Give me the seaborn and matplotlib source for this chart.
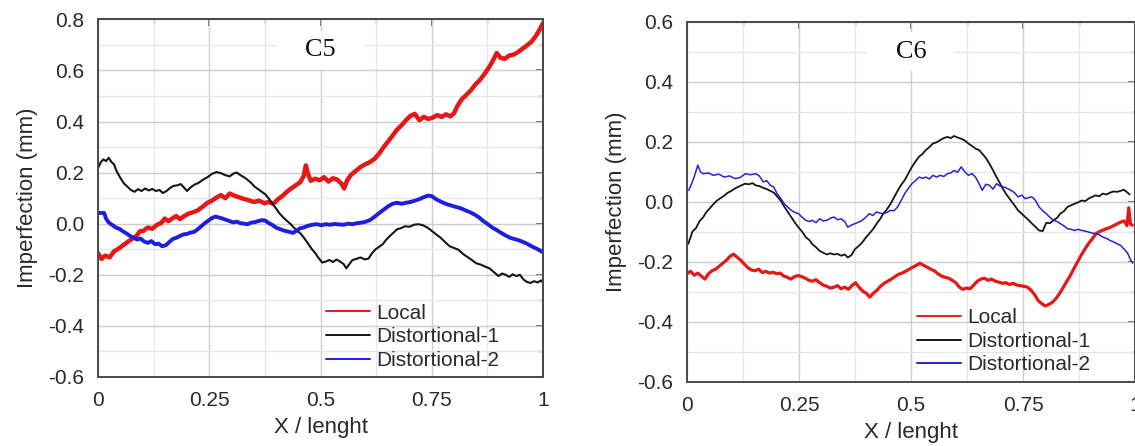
import matplotlib
matplotlib.use("Agg")
import matplotlib.pyplot as plt
import seaborn as sns
from matplotlib.ticker import MultipleLocator, FixedLocator, NullFormatter, FormatStrFormatter

# ---------------- C5 ----------------
c5_local_x = [0.000, 0.008, 0.016, 0.026, 0.036, 0.046, 0.056, 0.066, 0.076, 0.086, 0.094, 0.102,
              0.112, 0.122, 0.132, 0.142, 0.150, 0.158, 0.168, 0.176, 0.184, 0.194, 0.204, 0.214,
              0.224, 0.234, 0.246, 0.256, 0.266, 0.276, 0.286, 0.296, 0.306, 0.316, 0.326, 0.338,
              0.350, 0.362, 0.374, 0.384, 0.394, 0.404, 0.414, 0.424, 0.434, 0.444, 0.454, 0.462,
              0.467, 0.472, 0.478, 0.488, 0.498, 0.508, 0.518, 0.528, 0.538, 0.548, 0.553, 0.560,
              0.568, 0.578, 0.590, 0.600, 0.612, 0.622, 0.632, 0.642, 0.652, 0.662, 0.672, 0.682,
              0.692, 0.702, 0.712, 0.722, 0.732, 0.742, 0.752, 0.762, 0.772, 0.782, 0.792, 0.800,
              0.808, 0.818, 0.828, 0.838, 0.848, 0.858, 0.868, 0.878, 0.888, 0.896, 0.904, 0.914,
              0.924, 0.934, 0.944, 0.954, 0.964, 0.974, 0.984, 0.992, 1.000]
c5_local_y = [-0.115, -0.138, -0.125, -0.132, -0.108, -0.098, -0.085, -0.072, -0.060, -0.049, -0.030, -0.028,
              -0.015, -0.020, -0.005, 0.003, 0.020, 0.010, 0.022, 0.030, 0.018, 0.030, 0.040, 0.045,
              0.052, 0.065, 0.082, 0.090, 0.102, 0.112, 0.100, 0.118, 0.110, 0.104, 0.098, 0.092,
              0.085, 0.090, 0.080, 0.085, 0.078, 0.095, 0.108, 0.124, 0.138, 0.150, 0.162, 0.185,
              0.228, 0.195, 0.168, 0.176, 0.170, 0.182, 0.165, 0.178, 0.172, 0.155, 0.138, 0.170,
              0.190, 0.205, 0.222, 0.232, 0.242, 0.255, 0.275, 0.300, 0.322, 0.345, 0.368, 0.385,
              0.405, 0.422, 0.430, 0.405, 0.418, 0.410, 0.415, 0.425, 0.418, 0.428, 0.420, 0.432,
              0.462, 0.488, 0.505, 0.522, 0.545, 0.562, 0.585, 0.610, 0.640, 0.668, 0.650, 0.645,
              0.658, 0.662, 0.672, 0.685, 0.698, 0.712, 0.735, 0.758, 0.785]

c5_d1_x = [0.000, 0.006, 0.012, 0.018, 0.024, 0.030, 0.036, 0.042, 0.050, 0.058, 0.066, 0.074,
           0.082, 0.090, 0.098, 0.106, 0.114, 0.122, 0.130, 0.138, 0.146, 0.154, 0.162, 0.170,
           0.178, 0.186, 0.194, 0.200, 0.208, 0.216, 0.226, 0.236, 0.246, 0.256, 0.266, 0.276,
           0.286, 0.296, 0.304, 0.312, 0.320, 0.328, 0.336, 0.344, 0.352, 0.360, 0.368, 0.376,
           0.384, 0.392, 0.400, 0.408, 0.416, 0.424, 0.432, 0.440, 0.448, 0.456, 0.464, 0.472,
           0.480, 0.488, 0.496, 0.504, 0.512, 0.520, 0.528, 0.536, 0.544, 0.552, 0.558, 0.564,
           0.572, 0.580, 0.590, 0.600, 0.608, 0.616, 0.624, 0.632, 0.640, 0.648, 0.656, 0.664,
           0.672, 0.680, 0.690, 0.700, 0.710, 0.720, 0.730, 0.740, 0.750, 0.760, 0.770, 0.780,
           0.790, 0.800, 0.810, 0.820, 0.830, 0.840, 0.850, 0.860, 0.870, 0.880, 0.890, 0.900,
           0.908, 0.916, 0.924, 0.932, 0.940, 0.948, 0.956, 0.964, 0.972, 0.980, 0.988, 0.996, 1.000]
c5_d1_y = [0.218, 0.240, 0.252, 0.245, 0.258, 0.242, 0.232, 0.205, 0.180, 0.158, 0.145, 0.132,
           0.125, 0.135, 0.128, 0.138, 0.130, 0.136, 0.128, 0.132, 0.120, 0.128, 0.140, 0.148,
           0.150, 0.155, 0.140, 0.128, 0.142, 0.152, 0.160, 0.172, 0.182, 0.195, 0.202, 0.198,
           0.190, 0.185, 0.196, 0.200, 0.190, 0.182, 0.172, 0.160, 0.145, 0.135, 0.125, 0.115,
           0.098, 0.078, 0.060, 0.040, 0.025, 0.012, 0.000, -0.015, -0.028, -0.040, -0.058, -0.078,
           -0.098, -0.115, -0.135, -0.152, -0.148, -0.142, -0.150, -0.140, -0.148, -0.158, -0.175, -0.160,
           -0.142, -0.138, -0.132, -0.140, -0.136, -0.115, -0.100, -0.090, -0.080, -0.062, -0.048, -0.035,
           -0.022, -0.018, -0.010, -0.012, -0.004, -0.002, -0.006, -0.015, -0.028, -0.042, -0.055, -0.072,
           -0.088, -0.095, -0.102, -0.118, -0.130, -0.142, -0.155, -0.160, -0.168, -0.175, -0.190, -0.205,
           -0.195, -0.200, -0.208, -0.198, -0.205, -0.200, -0.218, -0.228, -0.232, -0.225, -0.230, -0.222, -0.230]

c5_d2_x = [0.000, 0.014, 0.018, 0.024, 0.032, 0.040, 0.048, 0.056, 0.064, 0.072, 0.080, 0.088,
           0.096, 0.104, 0.112, 0.120, 0.128, 0.136, 0.144, 0.152, 0.160, 0.168, 0.176, 0.184,
           0.192, 0.200, 0.208, 0.216, 0.224, 0.232, 0.240, 0.248, 0.256, 0.264, 0.272, 0.280,
           0.288, 0.296, 0.304, 0.312, 0.320, 0.328, 0.336, 0.344, 0.352, 0.360, 0.368, 0.376,
           0.384, 0.392, 0.400, 0.410, 0.420, 0.430, 0.438, 0.446, 0.454, 0.462, 0.472, 0.482,
           0.492, 0.502, 0.512, 0.522, 0.532, 0.542, 0.552, 0.562, 0.572, 0.582, 0.592, 0.602,
           0.612, 0.622, 0.632, 0.642, 0.652, 0.662, 0.672, 0.682, 0.692, 0.702, 0.712, 0.722,
           0.732, 0.742, 0.750, 0.758, 0.766, 0.776, 0.786, 0.796, 0.806, 0.816, 0.826, 0.836,
           0.846, 0.856, 0.866, 0.876, 0.886, 0.896, 0.906, 0.916, 0.926, 0.936, 0.946, 0.956,
           0.966, 0.976, 0.986, 1.000]
c5_d2_y = [0.042, 0.042, 0.020, 0.005, -0.005, -0.015, -0.020, -0.030, -0.038, -0.048, -0.055, -0.062,
           -0.058, -0.070, -0.075, -0.068, -0.080, -0.078, -0.088, -0.085, -0.072, -0.060, -0.055, -0.048,
           -0.042, -0.040, -0.035, -0.032, -0.022, -0.010, 0.002, 0.012, 0.022, 0.028, 0.024, 0.020,
           0.015, 0.010, 0.005, 0.008, 0.002, 0.000, -0.002, 0.004, 0.006, 0.010, 0.014, 0.012,
           0.002, -0.005, -0.015, -0.022, -0.028, -0.032, -0.036, -0.028, -0.018, -0.015, -0.008, -0.004,
           -0.002, -0.006, -0.002, -0.004, -0.001, -0.003, -0.004, 0.000, -0.002, 0.002, 0.004, 0.008,
           0.015, 0.028, 0.042, 0.055, 0.068, 0.078, 0.082, 0.078, 0.082, 0.085, 0.090, 0.096,
           0.104, 0.110, 0.108, 0.098, 0.090, 0.082, 0.075, 0.070, 0.065, 0.060, 0.052, 0.045,
           0.036, 0.025, 0.010, -0.002, -0.015, -0.025, -0.036, -0.046, -0.055, -0.060, -0.065, -0.072,
           -0.080, -0.090, -0.098, -0.112]

# ---------------- C6 ----------------
c6_local_x = [0.000, 0.008, 0.016, 0.024, 0.032, 0.040, 0.048, 0.056, 0.064, 0.072, 0.080, 0.088,
              0.096, 0.104, 0.112, 0.120, 0.128, 0.136, 0.144, 0.152, 0.160, 0.168, 0.176, 0.184,
              0.192, 0.200, 0.208, 0.216, 0.224, 0.232, 0.240, 0.248, 0.256, 0.264, 0.272, 0.280,
              0.288, 0.296, 0.304, 0.312, 0.320, 0.328, 0.336, 0.344, 0.352, 0.360, 0.368, 0.376,
              0.384, 0.392, 0.400, 0.408, 0.416, 0.424, 0.432, 0.440, 0.448, 0.456, 0.464, 0.472,
              0.480, 0.488, 0.496, 0.504, 0.512, 0.520, 0.528, 0.536, 0.544, 0.552, 0.560, 0.568,
              0.576, 0.584, 0.592, 0.600, 0.608, 0.616, 0.624, 0.632, 0.640, 0.648, 0.656, 0.664,
              0.672, 0.680, 0.688, 0.696, 0.704, 0.712, 0.720, 0.728, 0.736, 0.744, 0.752, 0.760,
              0.768, 0.776, 0.784, 0.792, 0.800, 0.808, 0.816, 0.824, 0.832, 0.840, 0.848, 0.856,
              0.864, 0.872, 0.880, 0.888, 0.896, 0.904, 0.912, 0.920, 0.928, 0.936, 0.944, 0.952,
              0.960, 0.968, 0.976, 0.982, 0.986, 0.990, 0.994]
c6_local_y = [-0.240, -0.232, -0.245, -0.238, -0.248, -0.258, -0.240, -0.230, -0.225, -0.215, -0.205, -0.195,
              -0.182, -0.175, -0.185, -0.195, -0.208, -0.220, -0.228, -0.230, -0.225, -0.236, -0.232, -0.238,
              -0.235, -0.240, -0.238, -0.248, -0.252, -0.258, -0.250, -0.246, -0.250, -0.255, -0.262, -0.265,
              -0.260, -0.270, -0.278, -0.282, -0.288, -0.285, -0.280, -0.290, -0.285, -0.292, -0.280, -0.270,
              -0.285, -0.298, -0.305, -0.318, -0.305, -0.295, -0.282, -0.272, -0.265, -0.258, -0.250, -0.242,
              -0.238, -0.232, -0.225, -0.218, -0.212, -0.205, -0.212, -0.218, -0.225, -0.230, -0.240, -0.248,
              -0.252, -0.255, -0.262, -0.270, -0.285, -0.292, -0.288, -0.290, -0.278, -0.265, -0.258, -0.255,
              -0.262, -0.258, -0.265, -0.268, -0.272, -0.270, -0.276, -0.272, -0.278, -0.280, -0.282, -0.285,
              -0.295, -0.310, -0.330, -0.340, -0.348, -0.342, -0.335, -0.322, -0.305, -0.285, -0.265, -0.245,
              -0.222, -0.200, -0.178, -0.158, -0.140, -0.125, -0.108, -0.100, -0.095, -0.090, -0.086, -0.080,
              -0.074, -0.068, -0.064, -0.080, -0.020, -0.075, -0.078]

c6_d1_x = [0.003, 0.008, 0.012, 0.020, 0.028, 0.036, 0.043, 0.051, 0.059, 0.067, 0.075, 0.083,
           0.091, 0.099, 0.107, 0.115, 0.122, 0.130, 0.138, 0.146, 0.154, 0.162, 0.170, 0.178,
           0.186, 0.194, 0.201, 0.209, 0.217, 0.225, 0.233, 0.241, 0.249, 0.257, 0.265, 0.273,
           0.280, 0.288, 0.296, 0.304, 0.312, 0.320, 0.328, 0.336, 0.344, 0.352, 0.359, 0.367,
           0.375, 0.383, 0.391, 0.399, 0.407, 0.415, 0.423, 0.431, 0.438, 0.446, 0.454, 0.462,
           0.470, 0.478, 0.486, 0.494, 0.502, 0.510, 0.518, 0.526, 0.533, 0.541, 0.549, 0.557,
           0.565, 0.573, 0.581, 0.589, 0.596, 0.604, 0.612, 0.620, 0.628, 0.636, 0.644, 0.652,
           0.659, 0.667, 0.675, 0.683, 0.691, 0.699, 0.707, 0.715, 0.723, 0.731, 0.739, 0.747,
           0.755, 0.763, 0.770, 0.778, 0.786, 0.794, 0.802, 0.810, 0.818, 0.826, 0.833, 0.841,
           0.849, 0.857, 0.865, 0.873, 0.881, 0.889, 0.896, 0.904, 0.912, 0.920, 0.928, 0.936,
           0.944, 0.952, 0.960, 0.968, 0.975, 0.982, 0.988]
c6_d1_y = [-0.140, -0.118, -0.100, -0.088, -0.065, -0.052, -0.035, -0.022, -0.008, 0.004, 0.012, 0.020,
           0.030, 0.036, 0.044, 0.050, 0.055, 0.060, 0.058, 0.062, 0.054, 0.052, 0.046, 0.042,
           0.036, 0.030, 0.018, 0.004, -0.016, -0.034, -0.052, -0.070, -0.086, -0.100, -0.118, -0.128,
           -0.142, -0.152, -0.164, -0.170, -0.176, -0.172, -0.176, -0.174, -0.180, -0.176, -0.186, -0.178,
           -0.158, -0.148, -0.136, -0.120, -0.106, -0.092, -0.074, -0.058, -0.040, -0.026, -0.008, 0.014,
           0.036, 0.056, 0.072, 0.094, 0.116, 0.134, 0.150, 0.160, 0.172, 0.182, 0.194, 0.198,
           0.205, 0.212, 0.216, 0.212, 0.219, 0.214, 0.210, 0.204, 0.194, 0.186, 0.177, 0.172,
           0.160, 0.146, 0.127, 0.105, 0.082, 0.060, 0.038, 0.020, 0.004, -0.012, -0.029, -0.040,
           -0.051, -0.062, -0.073, -0.084, -0.096, -0.098, -0.070, -0.072, -0.062, -0.054, -0.040, -0.032,
           -0.018, -0.012, -0.007, -0.002, 0.004, 0.002, 0.010, 0.016, 0.021, 0.018, 0.027, 0.024,
           0.030, 0.034, 0.033, 0.036, 0.040, 0.032, 0.024]

c6_d2_x = [0.004, 0.012, 0.018, 0.024, 0.030, 0.036, 0.047, 0.059, 0.071, 0.083, 0.095, 0.107,
           0.118, 0.130, 0.142, 0.154, 0.162, 0.170, 0.178, 0.186, 0.194, 0.201, 0.209, 0.217,
           0.225, 0.233, 0.241, 0.249, 0.257, 0.265, 0.273, 0.280, 0.288, 0.296, 0.304, 0.312,
           0.320, 0.328, 0.336, 0.344, 0.352, 0.359, 0.367, 0.375, 0.383, 0.391, 0.399, 0.407,
           0.415, 0.423, 0.431, 0.438, 0.446, 0.454, 0.462, 0.470, 0.478, 0.486, 0.494, 0.502,
           0.510, 0.518, 0.526, 0.533, 0.541, 0.549, 0.557, 0.565, 0.573, 0.581, 0.589, 0.596,
           0.604, 0.612, 0.620, 0.628, 0.636, 0.644, 0.652, 0.659, 0.667, 0.675, 0.683, 0.691,
           0.699, 0.707, 0.715, 0.723, 0.731, 0.739, 0.747, 0.755, 0.763, 0.770, 0.778, 0.786,
           0.794, 0.802, 0.810, 0.818, 0.826, 0.833, 0.841, 0.849, 0.857, 0.865, 0.873, 0.881,
           0.889, 0.896, 0.904, 0.912, 0.920, 0.928, 0.936, 0.944, 0.952, 0.960, 0.968, 0.975,
           0.983, 0.991, 0.995]
c6_d2_y = [0.038, 0.066, 0.092, 0.122, 0.100, 0.093, 0.096, 0.088, 0.092, 0.082, 0.086, 0.077,
           0.080, 0.093, 0.090, 0.093, 0.085, 0.066, 0.070, 0.055, 0.048, 0.027, 0.012, -0.007,
           -0.018, -0.029, -0.036, -0.040, -0.052, -0.062, -0.066, -0.062, -0.070, -0.057, -0.064, -0.062,
           -0.055, -0.051, -0.060, -0.057, -0.066, -0.085, -0.078, -0.073, -0.068, -0.062, -0.052, -0.040,
           -0.046, -0.034, -0.038, -0.040, -0.036, -0.029, -0.030, -0.018, 0.004, 0.027, 0.044, 0.060,
           0.070, 0.082, 0.078, 0.082, 0.076, 0.088, 0.082, 0.088, 0.084, 0.093, 0.096, 0.104,
           0.098, 0.116, 0.100, 0.088, 0.094, 0.082, 0.060, 0.038, 0.058, 0.055, 0.042, 0.060,
           0.052, 0.049, 0.044, 0.038, 0.030, 0.016, 0.022, 0.010, 0.014, 0.016, 0.004, -0.018,
           -0.030, -0.040, -0.052, -0.062, -0.066, -0.073, -0.080, -0.090, -0.092, -0.096, -0.092, -0.096,
           -0.098, -0.101, -0.104, -0.107, -0.110, -0.118, -0.122, -0.129, -0.134, -0.140, -0.146, -0.157,
           -0.170, -0.196, -0.205]

series_names = ["Local", "Distortional-1", "Distortional-2"]
x_ticks = [0, 0.25, 0.5, 0.75, 1]
x_tick_labels = ["0", "0.25", "0.5", "0.75", "1"]
c5_y_ticks = [-0.6, -0.4, -0.2, 0.0, 0.2, 0.4, 0.6, 0.8]
c6_y_ticks = [-0.6, -0.4, -0.2, 0.0, 0.2, 0.4, 0.6]

sns.set_theme(style="white")
plt.rcParams["font.family"] = ["Liberation Sans", "DejaVu Sans"]
plt.rcParams["axes.unicode_minus"] = False

SPINE = "#4a4a4a"
TXT = "#2a2a2a"

fig = plt.figure(figsize=(11.35, 4.46), dpi=100)
W, H = 1135.0, 446.0
ax1 = fig.add_axes([98 / W, 1 - 377 / H, (543 - 98) / W, (377 - 19.3) / H])
ax2 = fig.add_axes([687 / W, 1 - 381.7 / H, (1135 - 687) / W, (381.7 - 21.7) / H])


def style_axes(ax, yticks, ylim):
    ax.set_xlim(0, 1)
    ax.set_ylim(*ylim)
    ax.xaxis.set_major_locator(FixedLocator(x_ticks))
    ax.set_xticklabels(x_tick_labels)
    ax.xaxis.set_minor_locator(MultipleLocator(0.125))
    ax.yaxis.set_major_locator(FixedLocator(yticks))
    ax.yaxis.set_major_formatter(FormatStrFormatter("%.1f"))
    ax.yaxis.set_minor_locator(MultipleLocator(0.1))
    ax.set_axisbelow(True)
    ax.grid(which="major", color="#cdcdcd", linewidth=1.0)
    ax.grid(which="minor", color="#e6e6e6", linewidth=0.9)
    for s in ax.spines.values():
        s.set_color(SPINE)
        s.set_linewidth(1.4)
        s.set_visible(True)
    ax.tick_params(which="major", direction="out", length=6, width=1.2, color=SPINE,
                   labelsize=15, labelcolor=TXT, pad=4)
    ax.tick_params(which="minor", direction="out", length=3.5, width=1.0, color=SPINE)
    # mirrored ticks on the top and right edges point inward
    top = ax.secondary_xaxis("top")
    top.xaxis.set_major_locator(FixedLocator(x_ticks))
    top.xaxis.set_minor_locator(MultipleLocator(0.125))
    top.xaxis.set_major_formatter(NullFormatter())
    top.tick_params(which="major", direction="in", length=5, width=1.2, color=SPINE)
    top.tick_params(which="minor", direction="in", length=3, width=1.0, color=SPINE)
    top.spines["top"].set_color(SPINE)
    top.spines["top"].set_linewidth(1.4)
    right = ax.secondary_yaxis("right")
    right.yaxis.set_major_locator(FixedLocator(yticks))
    right.yaxis.set_minor_locator(MultipleLocator(0.1))
    right.yaxis.set_major_formatter(NullFormatter())
    right.tick_params(which="major", direction="in", length=5, width=1.2, color=SPINE)
    right.tick_params(which="minor", direction="in", length=3, width=1.0, color=SPINE)
    right.spines["right"].set_color(SPINE)
    right.spines["right"].set_linewidth(1.4)
    ax.set_xlabel("X / lenght", fontsize=16, color=TXT, labelpad=5)
    ax.set_ylabel("Imperfection (mm)", fontsize=16, color=TXT, labelpad=7)


def draw_panel(ax, data, yticks, ylim, tag, tag_y):
    for name, xs, ys, color, lw in data:
        sns.lineplot(x=xs, y=ys, ax=ax, color=color, linewidth=lw, label=name,
                     estimator=None, sort=False)
    style_axes(ax, yticks, ylim)
    leg = ax.legend(loc="lower left", bbox_to_anchor=(0.513, 0.02), frameon=False,
                    fontsize=15, handlelength=2.1, handletextpad=0.3, labelspacing=0.22,
                    borderpad=0, borderaxespad=0)
    for line in leg.get_lines():
        line.set_linewidth(1.4)
    for t in leg.get_texts():
        t.set_color(TXT)
    ax.text(0.5, tag_y, "   " + tag + "   ", ha="center", va="center", fontsize=19,
            family="Liberation Serif", color="#111111", zorder=5,
            bbox=dict(facecolor="white", edgecolor="none", pad=6))


draw_panel(ax1, [
    (series_names[0], c5_local_x, c5_local_y, "#e81717", 3.2),
    (series_names[1], c5_d1_x, c5_d1_y, "#151515", 1.5),
    (series_names[2], c5_d2_x, c5_d2_y, "#1e1ee0", 2.8),
], c5_y_ticks, (-0.6, 0.8), "C5", 0.678)

draw_panel(ax2, [
    (series_names[0], c6_local_x, c6_local_y, "#e81717", 2.3),
    (series_names[1], c6_d1_x, c6_d1_y, "#151515", 1.3),
    (series_names[2], c6_d2_x, c6_d2_y, "#2626cc", 1.1),
], c6_y_ticks, (-0.6, 0.6), "C6", 0.5)

fig.savefig("out.png", dpi=100)
